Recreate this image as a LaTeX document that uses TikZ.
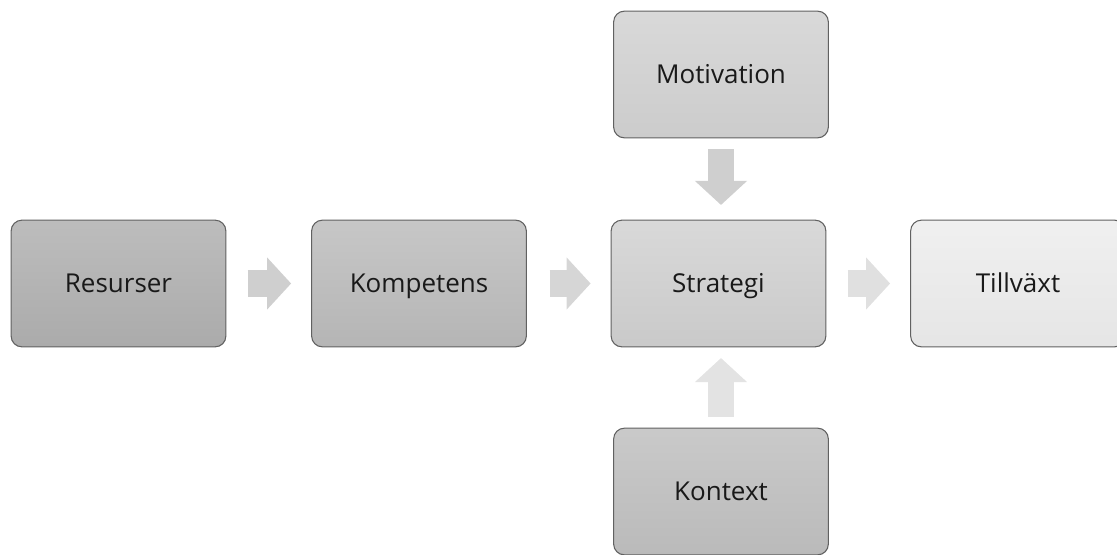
\documentclass[tikz,border=0pt]{standalone}
\usepackage{fontspec}
\setmainfont{Open Sans}
\usetikzlibrary{arrows.meta}

\tikzset{
  box/.style={draw=black!62, line width=0.8pt, rounded corners=8pt,
              minimum width=161pt, minimum height=95pt,
              inner sep=0pt, text height=14pt, text depth=0pt,
              font=\fontsize{19.5}{22}\selectfont, text=black!90},
  flow/.style={line width=20pt, -{Triangle[length=18pt,width=38pt]}},
}

\begin{document}
\begin{tikzpicture}[x=0.75pt, y=-0.75pt]
\useasboundingbox (0,0) rectangle (1117,554);
\node[box, top color=black!26, bottom color=black!33] (res)  at (118.5,283.5) {Resurser};
\node[box, top color=black!22, bottom color=black!29] (komp) at (419,283.5)   {Kompetens};
\node[box, top color=black!15, bottom color=black!21] (strat) at (718.5,283.5) {Strategi};
\node[box, top color=black!6,  bottom color=black!10] (till) at (1018,283.5)  {Tillväxt};
\node[box, top color=black!15, bottom color=black!20] (mot)  at (721,74.5)    {Motivation};
\node[box, top color=black!21, bottom color=black!27] (kon)  at (721,491.5)   {Kontext};
% arrows between boxes
\draw[flow, draw=black!19, shorten <=16pt, shorten >=15pt] (res)  -- (komp);
\draw[flow, draw=black!16, shorten <=17pt, shorten >=15pt] (komp) -- (strat);
\draw[flow, draw=black!12, shorten <=16pt, shorten >=15pt] (strat) -- (till);
\draw[flow, draw=black!19, shorten <=8pt,  shorten >=11pt] (mot.south) -- (mot.south |- strat.north);
\draw[flow, draw=black!11, shorten <=8pt,  shorten >=8pt]  (kon.north) -- (kon.north |- strat.south);
\end{tikzpicture}
\end{document}
